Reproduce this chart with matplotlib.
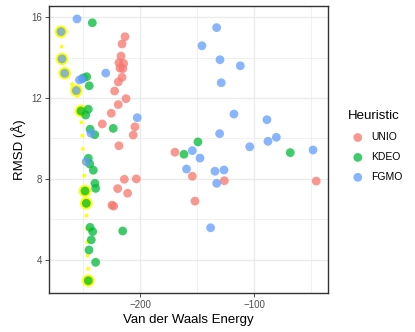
import numpy as np
import matplotlib.pyplot as plt

plt.rcParams['font.family'] = ['Liberation Sans', 'DejaVu Sans']

# van der Waals energy / RMSD per heuristic
unio_energy = [-213.1, -215.7, -216.6, -218.4, -214.3, -217.5, -214.9, -215.7, -219.0,
               -222.2, -212.2, -219.0, -225.1, -233.0, -204.4, -205.9, -218.4, -213.7,
               -203.2, -219.5, -210.8, -224.5, -223.0, -169.4, -154.2, -126.2, -45.8, -151.9]
unio_rmsd = [15.04, 14.68, 14.08, 13.75, 13.72, 13.48, 13.46, 13.03, 12.80,
             12.35, 11.97, 11.68, 11.25, 10.72, 10.58, 10.17, 9.64, 7.98,
             8.00, 7.52, 7.29, 6.70, 6.65, 9.32, 8.13, 7.91, 7.89, 6.90]

kdeo_energy = [-241.7, -246.6, -249.6, -244.4, -245.2, -247.5, -223.4, -243.7, -239.6,
               -245.2, -244.0, -240.8, -161.5, -149.3, -239.4, -238.8, -68.5, -243.7,
               -241.4, -242.6, -244.6, -238.8, -215.1,
               -251.6, -248.1, -247.0, -245.2]
kdeo_rmsd = [15.73, 13.06, 13.00, 12.61, 11.45, 11.16, 10.50, 10.46, 10.19,
             9.02, 8.74, 8.43, 9.22, 9.83, 7.78, 7.53, 9.30, 5.60,
             5.39, 4.98, 4.48, 3.87, 5.42,
             11.36, 7.40, 6.79, 2.96]

fgmo_energy = [-255.1, -229.9, -253.0, -250.5, -202.4, -242.9, -247.0, -159.3, -132.9,
               -145.8, -130.0, -112.2, -128.9, -117.8, -88.9, -130.3, -88.0, -80.7,
               -104.0, -154.2, -147.5, -48.6, -134.4, -126.5, -132.9, -138.2,
               -269.1, -268.2, -265.9, -255.7]
fgmo_rmsd = [15.92, 13.24, 12.90, 12.95, 11.03, 10.26, 8.85, 8.49, 15.49,
             14.59, 13.90, 13.60, 12.76, 11.21, 10.93, 10.24, 9.86, 10.06,
             9.59, 9.40, 9.03, 9.43, 8.38, 8.44, 7.78, 5.58,
             15.29, 13.94, 13.23, 12.37]

# highlighted front
front_energy = [-269.1, -268.2, -265.9, -255.7, -251.6, -248.1, -247.0, -245.2]
front_rmsd = [15.29, 13.94, 13.23, 12.37, 11.36, 7.40, 6.79, 2.96]

heuristics = ["UNIO", "KDEO", "FGMO"]
colors = {"UNIO": "#F8766D", "KDEO": "#00BA38", "FGMO": "#619CFF"}
data = {"UNIO": (unio_energy, unio_rmsd),
        "KDEO": (kdeo_energy, kdeo_rmsd),
        "FGMO": (fgmo_energy, fgmo_rmsd)}

fig = plt.figure(figsize=(4.15, 3.32), dpi=100)
ax = fig.add_axes([49/415, 1-293/332, (328-49)/415, (293-6)/332])

ax.plot(front_energy, front_rmsd, color='#FFFF00', lw=2.4, linestyle=(0, (1, 3.0)),
        dash_capstyle='butt', zorder=2)
ax.scatter(front_energy, front_rmsd, s=80, color='#FFFF00', edgecolors='none', zorder=3)

for h in heuristics:
    x, y = data[h]
    ax.scatter(x, y, s=40, color=colors[h], alpha=0.75, edgecolors='none', zorder=4, label=h)

ax.set_xlim(-279.6, -35.5)
ax.set_ylim(2.35, 16.56)
ax.set_xticks([-200, -100])
ax.set_xticklabels(['\u2212200', '\u2212100'])
ax.set_yticks([4, 8, 12, 16])
ax.set_xticks([-250, -150, -50], minor=True)
ax.set_yticks([6, 10, 14], minor=True)
ax.grid(True, which='major', color='#EBEBEB', lw=1.0, zorder=0)
ax.grid(True, which='minor', color='#EBEBEB', lw=0.5, zorder=0)
ax.set_axisbelow(True)
ax.tick_params(which='major', length=3, width=0.6, color='#333333', labelsize=7, labelcolor='#4D4D4D', pad=2)
ax.tick_params(which='minor', length=0)
for s in ax.spines.values():
    s.set_color('#333333')
    s.set_linewidth(1.0)

ax.set_xlabel("Van der Waals Energy", fontsize=9.5, labelpad=3)
ax.set_ylabel("RMSD (\u00c5)", fontsize=9.5, labelpad=4)

leg = fig.legend(loc='upper left', bbox_to_anchor=(338/415, 1-101/332), frameon=False,
                 title="Heuristic", title_fontsize=9.5, fontsize=7.5, alignment='left',
                 scatterpoints=1, handlelength=2.0, handletextpad=0.3, labelspacing=0.95)

fig.savefig('out.png', dpi=100)
